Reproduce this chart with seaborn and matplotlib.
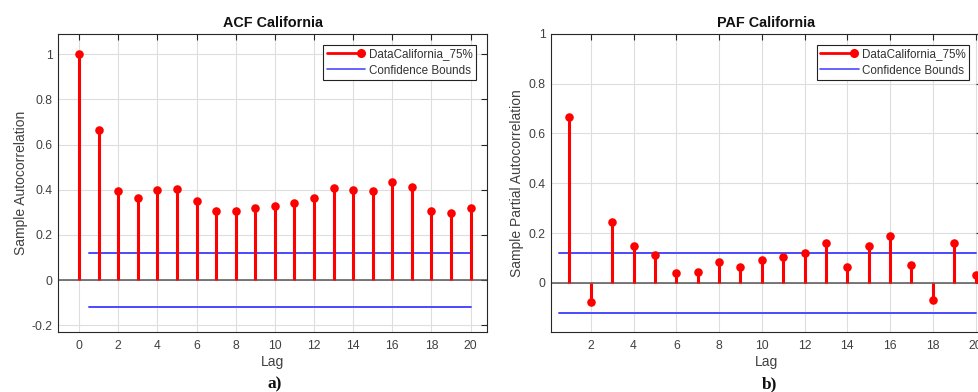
import numpy as np
import pandas as pd
import seaborn as sns
import matplotlib
matplotlib.use("Agg")
import matplotlib.pyplot as plt
from matplotlib.lines import Line2D
from matplotlib.legend_handler import HandlerBase

# ---------------- data ----------------
acf_lags = list(range(0, 21))
acf_values = [1.0, 0.664, 0.395, 0.362, 0.398, 0.402, 0.352, 0.304, 0.304, 0.318,
              0.328, 0.339, 0.364, 0.407, 0.398, 0.395, 0.432, 0.413, 0.305, 0.296, 0.318]
pacf_lags = list(range(1, 21))
pacf_values = [0.665, -0.076, 0.243, 0.146, 0.111, 0.040, 0.044, 0.082, 0.064, 0.090,
               0.103, 0.121, 0.161, 0.064, 0.146, 0.190, 0.070, -0.068, 0.160, 0.031]
conf_bound = 0.121
series_label = "DataCalifornia_75%"
bounds_label = "Confidence Bounds"
titles = ["ACF California", "PAF California"]
ylabels = ["Sample Autocorrelation", "Sample Partial Autocorrelation"]
panel_tags = ["a)", "b)"]
acf_xticks = list(range(0, 21, 2))
pacf_xticks = list(range(2, 21, 2))
acf_yticks = [-0.2, 0, 0.2, 0.4, 0.6, 0.8, 1]
pacf_yticks = [0, 0.2, 0.4, 0.6, 0.8, 1]

# ---------------- style ----------------
sns.set_style("white")
plt.rcParams["font.family"] = ["Liberation Sans", "DejaVu Sans"]

W, H = 979, 392
fig = plt.figure(figsize=(W / 100, H / 100), dpi=100)

RED = "#ff0000"
BLUE = "#4a4aff"
AX_COL = "#262626"
TXT_COL = "#404040"


class StemHandler(HandlerBase):
    def create_artists(self, legend, orig_handle, xdescent, ydescent,
                       width, height, fontsize, trans):
        y = height / 2 - ydescent
        ln = Line2D([-xdescent, width - xdescent - 3], [y, y], color=RED, lw=2,
                    transform=trans)
        mk = Line2D([width - xdescent - 3], [y], marker="o", color=RED, ms=5.5,
                    ls="none", transform=trans)
        return [ln, mk]


def px_axes(left, top, right, bottom):
    return fig.add_axes([left / W, 1 - bottom / H, (right - left) / W, (bottom - top) / H])


def draw(ax, lags, vals, xlim, ylim, xticks, yticks, title, ylabel, leg_right_px):
    df = pd.DataFrame({"lag": lags, "value": vals})
    ax.set_xlim(*xlim)
    ax.set_ylim(*ylim)
    ax.grid(True, color="#dedede", lw=0.8)
    ax.set_axisbelow(True)
    # baseline
    ax.axhline(0, color="#555555", lw=1.1, zorder=2)
    # confidence bounds
    ax.plot([0.5, lags[-1]], [conf_bound, conf_bound], color=BLUE, lw=1.4, zorder=3)
    ax.plot([0.5, lags[-1]], [-conf_bound, -conf_bound], color=BLUE, lw=1.4, zorder=3)
    # stems
    ax.vlines(df["lag"], 0, df["value"], color=RED, lw=2.2, zorder=4)
    sns.scatterplot(data=df, x="lag", y="value", ax=ax, color=RED, s=38,
                    edgecolor=RED, linewidth=0, zorder=5, legend=False)
    ax.set_xticks(xticks)
    ax.set_xticklabels([str(t) for t in xticks])
    ax.set_yticks(yticks)
    ax.set_yticklabels([("%g" % t) for t in yticks])
    ax.tick_params(direction="in", top=True, right=True, length=4, width=0.8,
                   color=AX_COL, labelsize=8.7, labelcolor=TXT_COL)
    ax.tick_params(axis="x", pad=6)
    ax.tick_params(axis="y", pad=4)
    for s in ax.spines.values():
        s.set_color(AX_COL)
        s.set_linewidth(0.8)
        s.set_visible(True)
    ax.set_title(title, fontsize=10.4, fontweight="bold", color="#111111", pad=5)
    ax.set_xlabel("Lag", fontsize=10, color=TXT_COL, labelpad=2)
    ax.set_ylabel(ylabel, fontsize=10, color=TXT_COL, labelpad=3)

    proxy = Line2D([], [], color=RED)
    bline = Line2D([], [], color=BLUE, lw=1.2)
    leg = ax.legend([proxy, bline], [series_label, bounds_label],
                    handler_map={proxy: StemHandler()},
                    loc="upper right", bbox_to_anchor=(leg_right_px / W, 1 - 45 / H),
                    bbox_transform=fig.transFigure, borderaxespad=0,
                    fontsize=8.4, handlelength=3.3, handletextpad=0.3,
                    labelspacing=0.35, borderpad=0.3, fancybox=False,
                    framealpha=1, edgecolor="#222222")
    leg.get_frame().set_linewidth(0.8)
    for t in leg.get_texts():
        t.set_color("#333333")


ax1 = px_axes(58.3, 33.7, 487.3, 331.7)
draw(ax1, acf_lags, acf_values, (-1.06, 20.85), (-0.229, 1.091),
     acf_xticks, acf_yticks, titles[0], ylabels[0], 476)

ax2 = px_axes(551, 33.7, 982, 331.7)
draw(ax2, pacf_lags, pacf_values, (0.14, 20.3), (-0.196, 1.0),
     pacf_xticks, pacf_yticks, titles[1], ylabels[1], 969.3)

for x, tag in zip([275, 770], panel_tags):
    fig.text(x / W, 1 - 384 / H, tag, ha="center", va="center", fontsize=12.5,
             fontweight="bold", family=["Liberation Serif", "DejaVu Serif"], color="#111111")

fig.savefig("out.png", dpi=100)
